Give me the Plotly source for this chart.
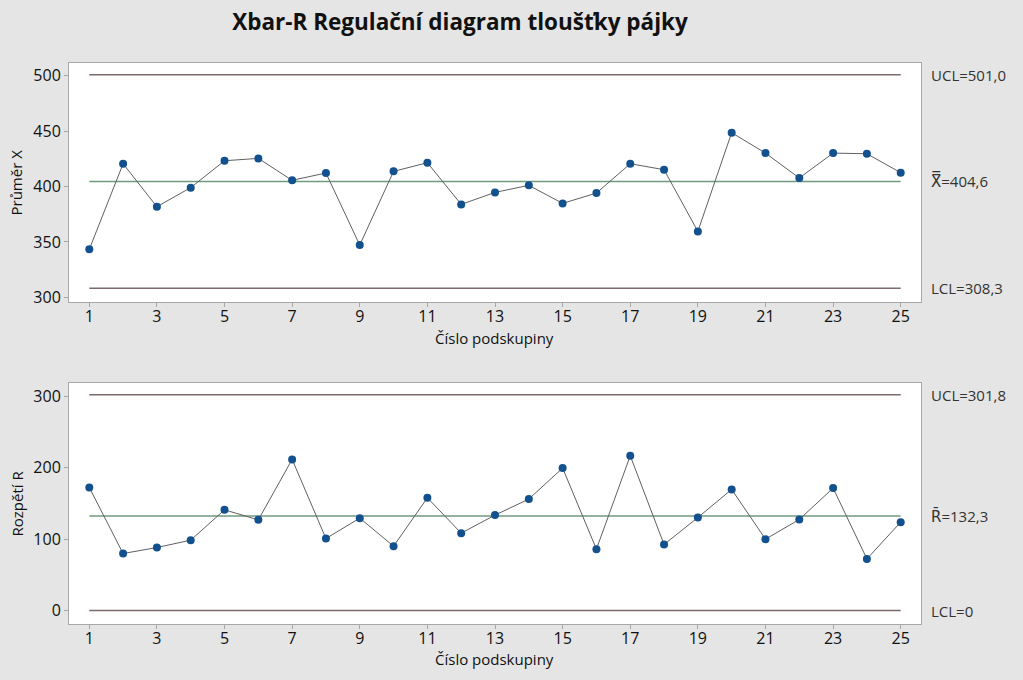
import plotly.graph_objects as go

podskupina = list(range(1, 26))
prumer = [343.3, 420.6, 381.8, 399.0, 423.3, 425.4, 405.6, 412.2, 347.2, 413.7,
          421.5, 383.9, 394.7, 401.1, 384.8, 394.1, 420.6, 415.2, 359.5, 448.6,
          430.2, 407.7, 430.2, 429.6, 412.5]
rozpeti = [172.2, 79.8, 88.2, 98.5, 140.9, 126.9, 211.4, 100.8, 129.3, 90.1,
           157.7, 108.3, 133.5, 155.9, 199.3, 85.9, 216.5, 92.4, 130.2, 169.4,
           99.9, 127.4, 171.3, 72.3, 123.7]

# control limits
x_ucl, x_cl, x_lcl = 501.0, 404.6, 308.3
r_ucl, r_cl, r_lcl = 301.8, 132.3, 0.0
x_labels = ["UCL=501,0",
            "<span style='font-family:DejaVu Sans'>X\u033f</span>=404,6",
            "LCL=308,3"]
r_labels = ["UCL=301,8",
            "<span style='font-family:DejaVu Sans'>R\u0304</span>=132,3",
            "LCL=0"]

FONT = "Open Sans"
LIMIT_COLOR = "#7d6a6a"
CENTER_COLOR = "#6f9a7f"
LINE_COLOR = "#606060"
DOT_COLOR = "#13508e"

fig = go.Figure()


def add_chart(vals, limits, xa, ya):
    ends = [podskupina[0], podskupina[-1]]
    for val, col in zip(limits, [LIMIT_COLOR, CENTER_COLOR, LIMIT_COLOR]):
        fig.add_trace(go.Scatter(x=ends, y=[val, val], mode="lines",
                                 line=dict(color=col, width=1.5),
                                 xaxis=xa, yaxis=ya, showlegend=False,
                                 hoverinfo="skip"))
    fig.add_trace(go.Scatter(x=podskupina, y=vals, mode="lines+markers",
                             line=dict(color=LINE_COLOR, width=1),
                             marker=dict(color=DOT_COLOR, size=8),
                             xaxis=xa, yaxis=ya, showlegend=False))


add_chart(prumer, [x_ucl, x_cl, x_lcl], "x", "y")
add_chart(rozpeti, [r_ucl, r_cl, r_lcl], "x2", "y2")

# labels to the right of the plot areas
for val, txt in zip([x_ucl, x_cl, x_lcl], x_labels):
    fig.add_annotation(x=1.009, xref="x domain", y=val, yref="y", text=txt,
                       showarrow=False, xanchor="left",
                       font=dict(family=FONT, size=15, color="#333333"))
for val, txt in zip([r_ucl, r_cl, r_lcl], r_labels):
    fig.add_annotation(x=1.009, xref="x2 domain", y=val, yref="y2", text=txt,
                       showarrow=False, xanchor="left",
                       font=dict(family=FONT, size=15, color="#333333"))

title_font = dict(family=FONT, size=15, color="#111111")

# axis titles placed as annotations so their position can be set exactly
for ypix in [338, 659]:
    fig.add_annotation(x=0.5, xref="x domain", y=1 - ypix / 680, yref="paper",
                       text="Číslo podskupiny", showarrow=False,
                       xanchor="center", yanchor="middle", font=title_font)
for ypix, txt in [(182.5, "Průměr X"), (503.5, "Rozpětí R")]:
    fig.add_annotation(x=16 / 1023, xref="paper", y=1 - ypix / 680, yref="paper",
                       text=txt, textangle=-90, showarrow=False,
                       xanchor="center", yanchor="middle", font=title_font)

xdom = [69 / 1023, 921 / 1023]
axis_common = dict(showline=True, linecolor="#a8a8a8", linewidth=1, mirror=True,
                   showgrid=False, zeroline=False, ticks="outside", ticklen=4,
                   tickcolor="#a8a8a8", automargin=False,
                   tickfont=dict(family=FONT, size=16, color="#111111"))

fig.update_layout(
    width=1023, height=680,
    margin=dict(l=0, r=0, t=0, b=0),
    paper_bgcolor="#e5e5e5",
    plot_bgcolor="white",
    title=dict(text="<b>Xbar-R Regulační diagram tloušťky pájky</b>",
               x=460 / 1023, xanchor="center", y=1 - 22 / 680, yanchor="middle",
               font=dict(family=FONT, size=22.5, color="#111111")),
    xaxis=dict(domain=xdom, anchor="y", range=[0.4, 25.6],
               tickvals=podskupina[::2], ticklabelstandoff=-4, **axis_common),
    yaxis=dict(domain=[1 - 302 / 680, 1 - 63 / 680], anchor="x",
               range=[295.8, 511.5], tickvals=[300, 350, 400, 450, 500],
               **axis_common),
    xaxis2=dict(domain=xdom, anchor="y2", range=[0.4, 25.6],
                tickvals=podskupina[::2], ticklabelstandoff=-4, **axis_common),
    yaxis2=dict(domain=[1 - 624 / 680, 1 - 383 / 680], anchor="x2",
                range=[-18.7, 318.2], tickvals=[0, 100, 200, 300],
                **axis_common),
)

# drop the browser's default page margin so the figure sits at the corner
fig.write_html("out.html", config={"displayModeBar": False},
               post_script="document.body.style.margin='0';")
